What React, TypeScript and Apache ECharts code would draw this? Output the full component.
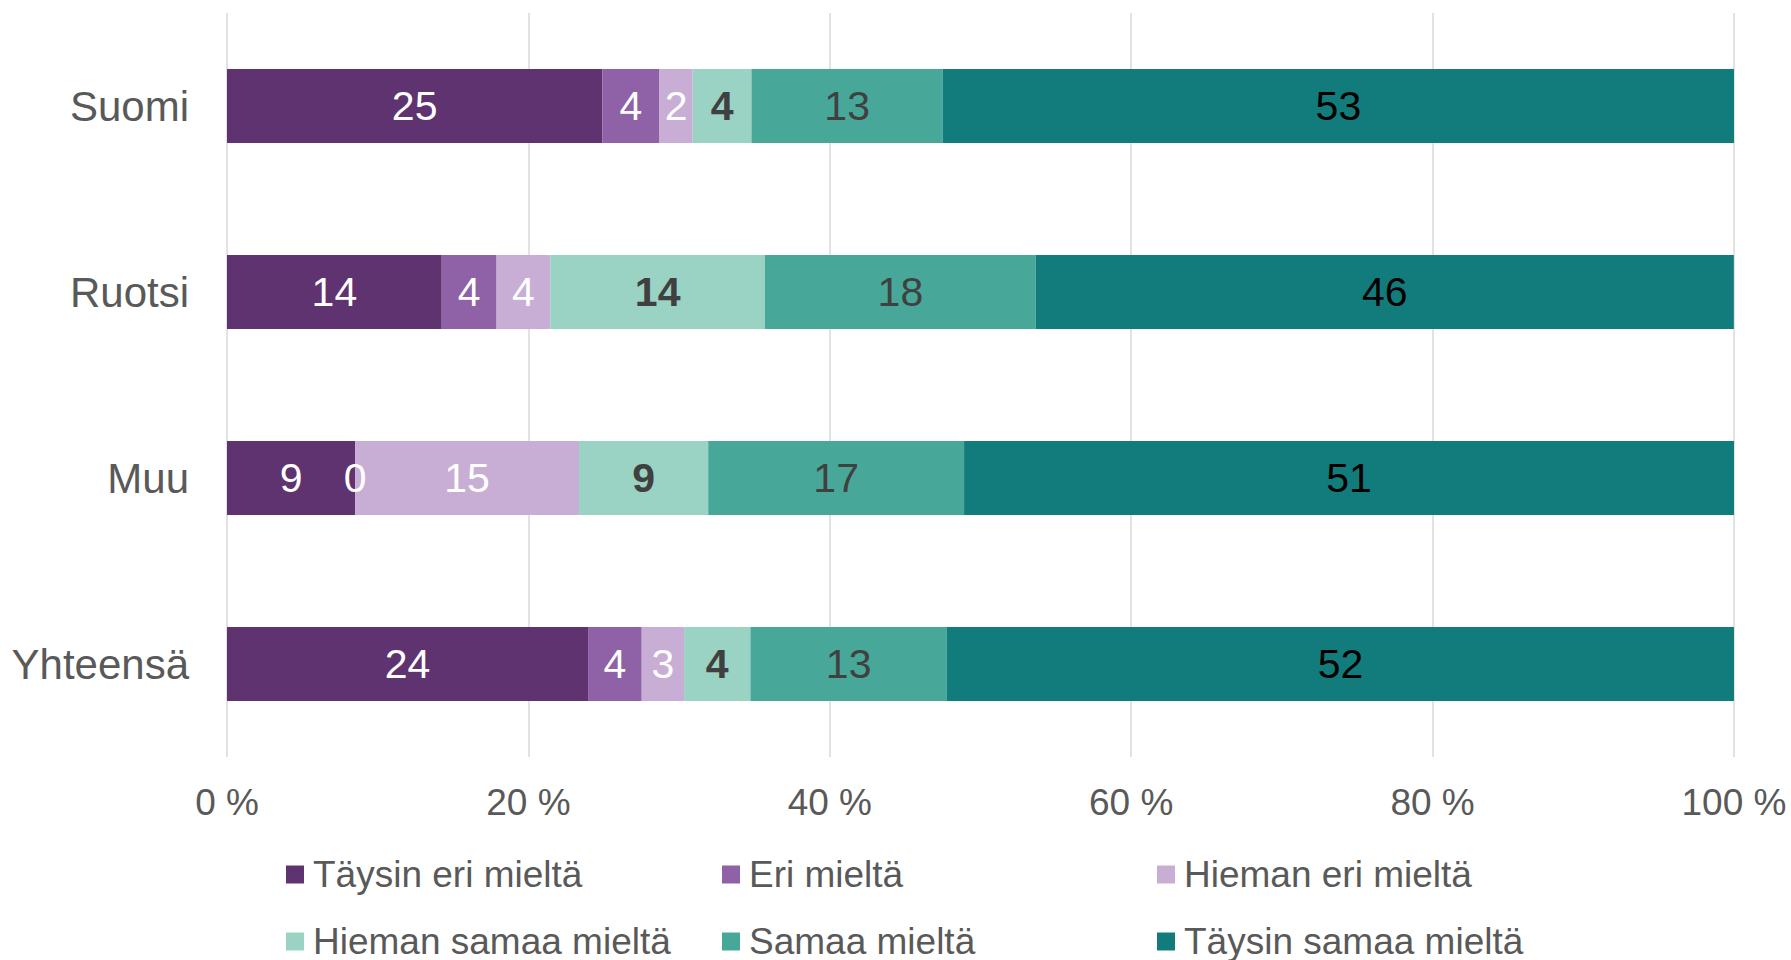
import React, { useEffect, useRef } from "react";
import * as echarts from "echarts";

const categories = ["Suomi", "Ruotsi", "Muu", "Yhteensä"];
const seriesNames = [
  "Täysin eri mieltä",
  "Eri mieltä",
  "Hieman eri mieltä",
  "Hieman samaa mieltä",
  "Samaa mieltä",
  "Täysin samaa mieltä",
];
const taysinEri = [24.9, 14.25, 8.5, 23.96];
const eri = [3.8, 3.64, 0, 3.56];
const hiemanEri = [2.2, 3.56, 14.86, 2.81];
const hiemanSamaa = [3.9, 14.25, 8.57, 4.4];
const samaa = [12.7, 17.97, 16.98, 13.04];
const taysinSamaa = [52.5, 46.32, 51.1, 52.24];
const xTicks = [0, 20, 40, 60, 80, 100];

const colors = ["#5E3370", "#8F61A6", "#C8AED4", "#9AD2C3", "#47A89A", "#127C7C"];
const labelColors = ["#ffffff", "#ffffff", "#ffffff", "#404040", "#404040", "#000000"];
const labelWeights = ["normal", "normal", "normal", "bold", "normal", "normal"];

export default function App() {
  const ref = useRef<HTMLDivElement>(null);
  useEffect(() => {
    if (!ref.current) return;
    const chart = echarts.init(ref.current, null, { renderer: "svg" });
    const allData = [taysinEri, eri, hiemanEri, hiemanSamaa, samaa, taysinSamaa];
    const font = "'Liberation Sans', Arial, sans-serif";
    const colLeft = [281, 717, 1152];
    const rowTop = [851, 918];
    const legends = seriesNames.map((name, i) => ({
      left: colLeft[i % 3],
      top: rowTop[Math.floor(i / 3)],
      itemWidth: 18,
      itemHeight: 18,
      icon: "rect",
      data: [name],
      textStyle: {
        fontFamily: font,
        fontSize: 37,
        color: "#595959",
        padding: [0, 0, 0, 4],
      },
    }));
    chart.setOption({
      animation: false,
      backgroundColor: "#ffffff",
      grid: { left: 227, right: 57, top: 13, bottom: 203, containLabel: false },
      legend: legends,
      xAxis: {
        type: "value",
        min: xTicks[0],
        max: xTicks[xTicks.length - 1],
        interval: 20,
        axisLine: { show: false },
        axisTick: { show: false },
        splitLine: { lineStyle: { color: "#d9d9d9", width: 1.5 } },
        axisLabel: {
          formatter: "{value} %",
          fontFamily: font,
          fontSize: 37,
          color: "#595959",
          margin: 27,
        },
      },
      yAxis: {
        type: "category",
        data: categories,
        inverse: true,
        axisLine: { show: false },
        axisTick: { show: false },
        axisLabel: {
          fontFamily: font,
          fontSize: 42,
          color: "#595959",
          margin: 38,
        },
      },
      series: seriesNames.map((name, i) => ({
        name,
        type: "bar",
        stack: "total",
        barWidth: 74,
        data: allData[i],
        itemStyle: { color: colors[i] },
        label: {
          show: true,
          position: "inside",
          formatter: (p: any) => String(Math.round(p.value)),
          fontFamily: font,
          fontSize: 41,
          color: labelColors[i],
          fontWeight: labelWeights[i],
        },
      })),
    });
    return () => chart.dispose();
  }, []);
  return (
    <div
      ref={ref}
      style={{ position: "fixed", left: 0, top: 0, width: 1791, height: 960 }}
    />
  );
}
